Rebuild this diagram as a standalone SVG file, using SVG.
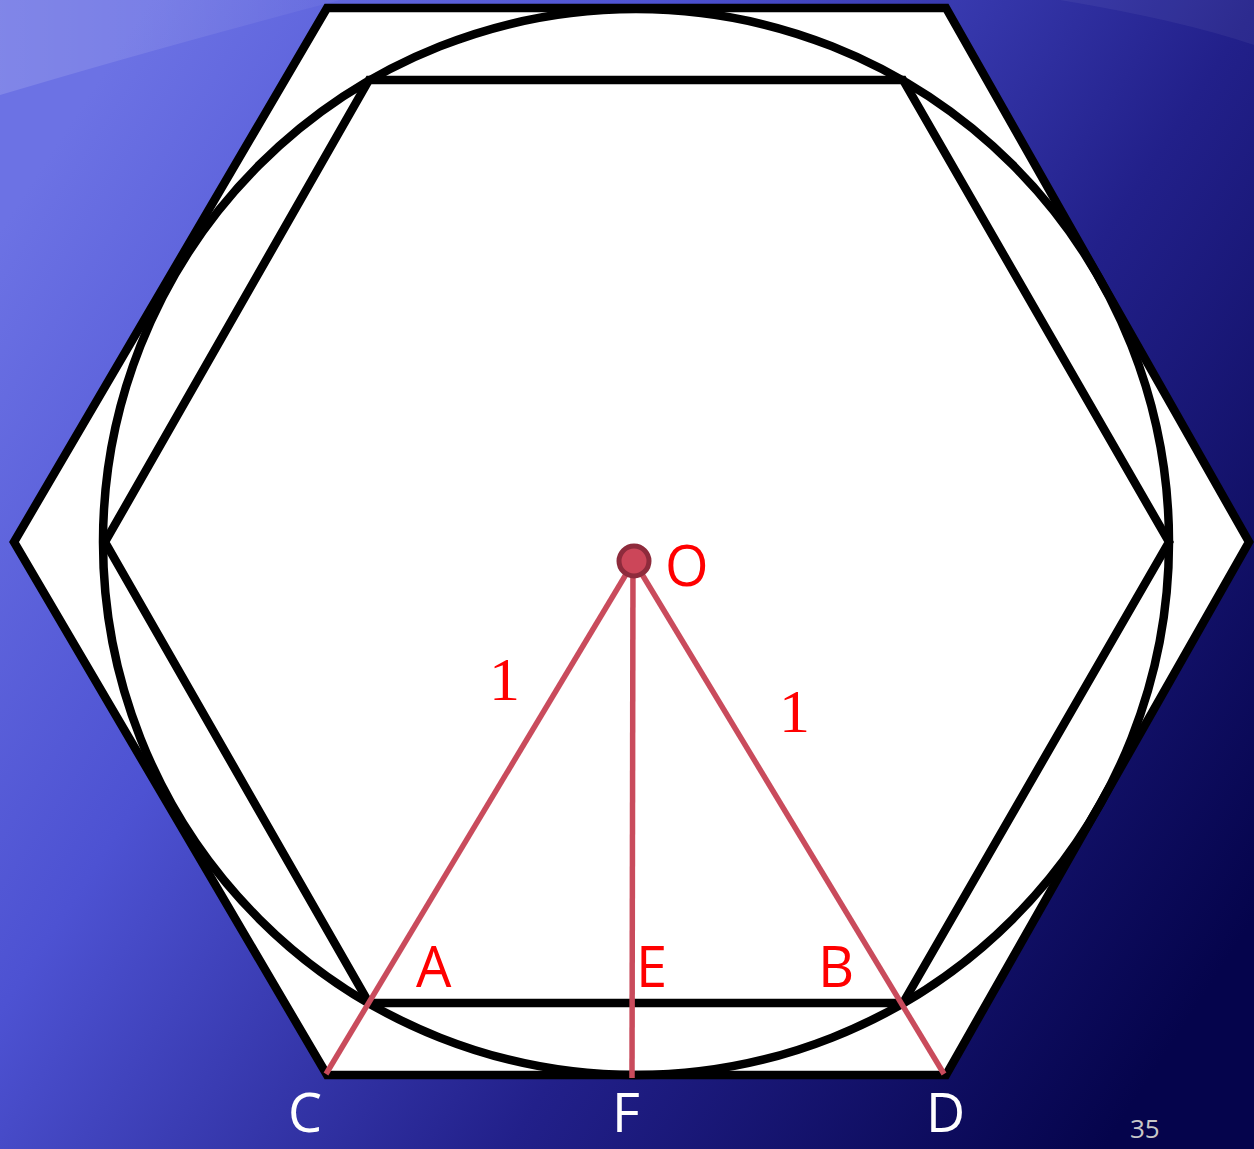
<svg xmlns="http://www.w3.org/2000/svg" width="1254" height="1149" viewBox="0 0 1254 1149">
<defs>
<linearGradient id="bg" x1="0" y1="0.2" x2="1" y2="0.8">
<stop offset="0" stop-color="#6c72e4"/>
<stop offset="0.3" stop-color="#4d52d2"/>
<stop offset="0.65" stop-color="#22208a"/>
<stop offset="1" stop-color="#05044c"/>
</linearGradient>
<linearGradient id="hl" x1="0" y1="0" x2="1" y2="0">
<stop offset="0" stop-color="#ffffff" stop-opacity="0.14"/>
<stop offset="1" stop-color="#ffffff" stop-opacity="0.04"/>
</linearGradient>
<style>
.blk{stroke:#000;stroke-width:8.5;stroke-linejoin:miter}
.red{stroke:#c94b5c;stroke-width:5.5;fill:none;stroke-linecap:butt}
.lbl{font-family:"Open Sans","Noto Sans",sans-serif;font-size:56px;fill:#ff0000}
.pt{font-family:"Open Sans","Noto Sans",sans-serif;font-size:54px;fill:#ffffff}
.num{font-family:"Liberation Serif",serif;font-size:62px;fill:#ff0000}
</style>
</defs>
<rect width="1254" height="1149" fill="url(#bg)"/>
<path d="M0,95 Q150,50 340,0 L0,0 Z" fill="url(#hl)"/>
<path d="M1060,0 Q1180,20 1254,45 L1254,0 Z" fill="#ffffff" fill-opacity="0.05"/>
<g id="outer-hexagon"><polygon points="327,8 946,8 1249,542 946,1075 327,1075 14,542" class="blk" style="fill:#ffffff"/></g>
<g id="circle"><circle cx="636" cy="542" r="533" class="blk" style="fill:none"/></g>
<g id="inner-hexagon"><polygon points="369,80 903,80 1169,542 903,1003 369,1003 105,542" class="blk" style="fill:none"/></g>
<g id="connectors">
<line x1="634" y1="561" x2="326" y2="1074" class="red"/>
<line x1="633" y1="561" x2="632" y2="1078" class="red"/>
<line x1="634" y1="561" x2="944" y2="1074" class="red"/>
</g>
<g id="O"><circle cx="634" cy="561" r="15" fill="#cc4659" stroke="#8e2b3c" stroke-width="5"/><text x="665" y="586" class="lbl">O</text></g>
<g id="len1"><text x="489" y="700" class="num">1</text><text x="779" y="732" class="num">1</text></g>
<g id="A"><text x="416" y="987" class="lbl">A</text></g>
<g id="E"><text x="636" y="987" class="lbl">E</text></g>
<g id="B"><text x="818" y="987" class="lbl">B</text></g>
<g id="C"><text x="288" y="1132" class="pt">C</text></g>
<g id="F"><text x="612" y="1132" class="pt">F</text></g>
<g id="D"><text x="926" y="1132" class="pt">D</text></g>
<text x="1130" y="1138" font-family="'Open Sans',sans-serif" font-size="26" fill="#c8c8c8">35</text>
</svg>
